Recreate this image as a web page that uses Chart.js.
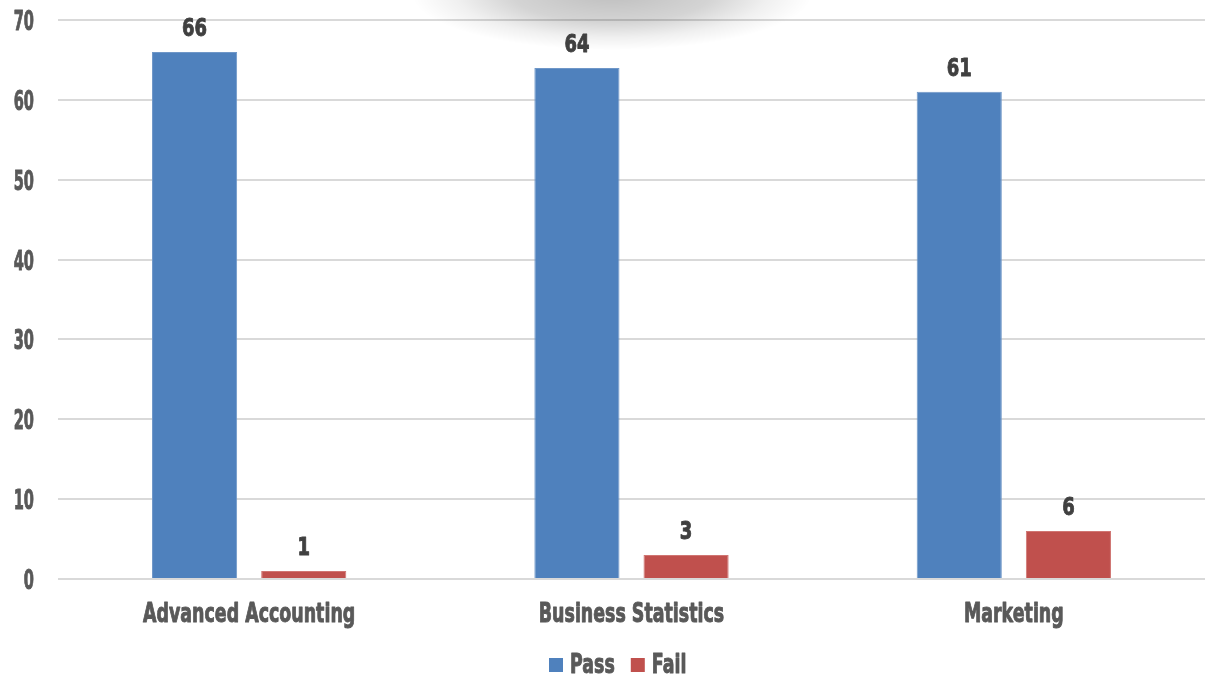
<!DOCTYPE html>
<html>
<head>
<meta charset="utf-8">
<script src="https://cdn.jsdelivr.net/npm/chart.js@4"></script>
<style>
    html, body { margin: 0; padding: 0; background: #ffffff; }
    #wrap { width: 1205px; height: 680px; position: relative; }
</style>
</head>
<body>
<div id="wrap"><canvas id="chart"></canvas></div>
<script>
const categories = ["Advanced Accounting", "Business Statistics", "Marketing"];
const passValues = [66, 64, 61];
const failValues = [1, 3, 6];
const yTicks = [0, 10, 20, 30, 40, 50, 60, 70];

const FONT = "'DejaVu Sans', sans-serif";
const AXIS_COLOR = "#595959";
const LABEL_COLOR = "#404040";

// narrow, heavy text: draw a bold face squeezed horizontally
function drawNarrow(ctx, text, x, y, align, size, sx, color) {
    ctx.save();
    ctx.font = "bold " + size + "px " + FONT;
    ctx.fillStyle = color;
    ctx.strokeStyle = color;
    ctx.lineWidth = 1;
    ctx.lineJoin = "round";
    ctx.textBaseline = "alphabetic";
    ctx.textAlign = "left";
    const w = ctx.measureText(text).width * sx;
    let left = x;
    if (align === "center") left = x - w / 2;
    if (align === "right") left = x - w;
    ctx.translate(left, y);
    ctx.scale(sx, 1);
    ctx.fillText(text, 0, 0);
    ctx.strokeText(text, 0, 0);
    ctx.restore();
    return w;
}

// soft grey smudge at top of the picture
const smudge = {
    id: "smudge",
    beforeDatasetsDraw(chart) {
        const ctx = chart.ctx;
        ctx.save();
        ctx.translate(612, -6);
        ctx.scale(1, 0.28);
        const g = ctx.createRadialGradient(0, 0, 0, 0, 0, 200);
        g.addColorStop(0, "rgba(0,0,0,0.25)");
        g.addColorStop(0.5, "rgba(0,0,0,0.17)");
        g.addColorStop(0.78, "rgba(0,0,0,0.06)");
        g.addColorStop(1, "rgba(0,0,0,0)");
        ctx.fillStyle = g;
        ctx.beginPath();
        ctx.arc(0, 0, 200, 0, Math.PI * 2);
        ctx.fill();
        ctx.restore();
    }
};

// axis labels, value labels and legend
const texts = {
    id: "texts",
    afterDatasetsDraw(chart) {
        const ctx = chart.ctx;
        const xs = chart.scales.x;
        const ys = chart.scales.y;

        yTicks.forEach(v => {
            drawNarrow(ctx, String(v), 34, ys.getPixelForValue(v) + 10, "right", 26, 0.56, AXIS_COLOR);
        });

        categories.forEach((c, i) => {
            drawNarrow(ctx, c, xs.getPixelForValue(i), 622, "center", 26, 0.67, AXIS_COLOR);
        });

        chart.data.datasets.forEach((ds, i) => {
            chart.getDatasetMeta(i).data.forEach((bar, j) => {
                drawNarrow(ctx, String(ds.data[j]), bar.x, bar.y - 16, "center", 25, 0.72, LABEL_COLOR);
            });
        });

        let x = 549;
        chart.data.datasets.forEach((ds) => {
            ctx.fillStyle = ds.backgroundColor;
            ctx.fillRect(x, 658, 14, 14);
            x += 21;
            x += drawNarrow(ctx, ds.label, x, 673, "left", 26, 0.67, AXIS_COLOR);
            x += 16;
        });
    }
};

new Chart(document.getElementById("chart"), {
    type: "bar",
    plugins: [smudge, texts],
    data: {
        labels: categories,
        datasets: [
            {
                label: "Pass",
                data: passValues,
                backgroundColor: "#4F81BD",
                borderColor: "#6f97c8",
                borderWidth: 1,
                barPercentage: 0.78,
                categoryPercentage: 0.571
            },
            {
                label: "Fail",
                data: failValues,
                backgroundColor: "#C0504D",
                borderColor: "#d07572",
                borderWidth: 1,
                barPercentage: 0.78,
                categoryPercentage: 0.571
            }
        ]
    },
    options: {
        responsive: true,
        maintainAspectRatio: false,
        animation: false,
        layout: { padding: { top: 20, right: 0, left: 0, bottom: 0 } },
        plugins: {
            legend: { display: false },
            tooltip: { enabled: false }
        },
        scales: {
            x: {
                grid: { display: false },
                border: { display: false },
                ticks: { display: false },
                afterFit: (scale) => { scale.height = 101; }
            },
            y: {
                min: 0,
                max: 70,
                afterBuildTicks: (scale) => { scale.ticks = yTicks.map(v => ({ value: v })); },
                grid: { color: "#d9d9d9", lineWidth: 2, drawTicks: false },
                border: { display: false },
                ticks: { display: false },
                afterFit: (scale) => { scale.width = 58; }
            }
        }
    }
});
</script>
</body>
</html>
